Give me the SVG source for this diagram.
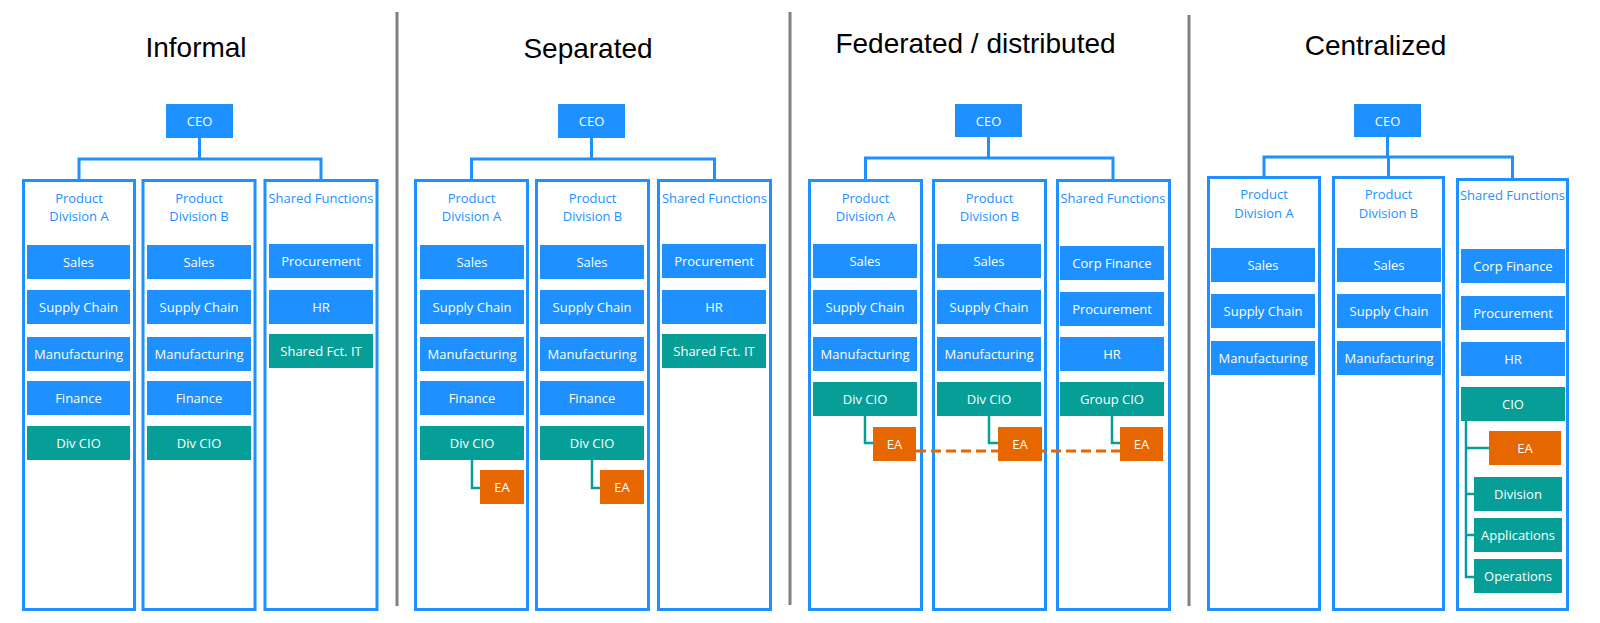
<svg xmlns="http://www.w3.org/2000/svg" width="1600" height="623" viewBox="0 0 1600 623">
<style>
.title{font-family:"Liberation Sans",Arial,sans-serif;font-size:28px;fill:#000;text-anchor:middle}
.col{fill:#fff;stroke:#1E90FF;stroke-width:3}
.hdr{font-family:"Open Sans","Noto Sans",sans-serif;font-size:13px;fill:#1E90FF;text-anchor:middle}
.b{fill:#1E90FF}
.t{fill:#069E96}
.o{fill:#E66700}
.lbl{font-family:"Open Sans","Noto Sans",sans-serif;font-size:13px;fill:#fff;text-anchor:middle;dominant-baseline:central}
.blue{fill:none;stroke:#1E90FF;stroke-width:3}
.teal{fill:none;stroke:#069E96;stroke-width:2.5}
.dash{fill:none;stroke:#E66700;stroke-width:3;stroke-dasharray:10 5}
.div{stroke:#808080;stroke-width:3}
</style>
<rect width="1600" height="623" fill="#fff"/>
<g id="dividers">
<line class="div" x1="397" y1="12" x2="397" y2="606"/>
<line class="div" x1="790" y1="12" x2="790" y2="605"/>
<line class="div" x1="1189" y1="15" x2="1189" y2="606"/>
</g>
<g id="titles">
<text class="title" x="196" y="57">Informal</text>
<text class="title" x="588" y="58">Separated</text>
<text class="title" x="975.5" y="53">Federated / distributed</text>
<text class="title" x="1375.5" y="55">Centralized</text>
</g>
<!-- Columns -->
<g id="p1-colA"><rect class="col" x="23.5" y="180.5" width="111" height="429"/><text class="hdr" x="79" y="203">Product</text><text class="hdr" x="79" y="221">Division A</text></g>
<g id="p1-colB"><rect class="col" x="143" y="180.5" width="112" height="429"/><text class="hdr" x="199" y="203">Product</text><text class="hdr" x="199" y="221">Division B</text></g>
<g id="p1-colS"><rect class="col" x="265" y="180.5" width="112" height="429"/><text class="hdr" x="321" y="203">Shared Functions</text></g>
<g id="p2-colA"><rect class="col" x="415.5" y="180.5" width="112" height="429"/><text class="hdr" x="471.5" y="203">Product</text><text class="hdr" x="471.5" y="221">Division A</text></g>
<g id="p2-colB"><rect class="col" x="536.5" y="180.5" width="112" height="429"/><text class="hdr" x="592.5" y="203">Product</text><text class="hdr" x="592.5" y="221">Division B</text></g>
<g id="p2-colS"><rect class="col" x="658.5" y="180.5" width="112" height="429"/><text class="hdr" x="714.5" y="203">Shared Functions</text></g>
<g id="p3-colA"><rect class="col" x="809.5" y="180.5" width="112" height="429"/><text class="hdr" x="865.5" y="203">Product</text><text class="hdr" x="865.5" y="221">Division A</text></g>
<g id="p3-colB"><rect class="col" x="933.5" y="180.5" width="112" height="429"/><text class="hdr" x="989.5" y="203">Product</text><text class="hdr" x="989.5" y="221">Division B</text></g>
<g id="p3-colS"><rect class="col" x="1057.5" y="180.5" width="112" height="429"/><text class="hdr" x="1113" y="203">Shared Functions</text></g>
<g id="p4-colA"><rect class="col" x="1208.5" y="177.5" width="111" height="432"/><text class="hdr" x="1264" y="199">Product</text><text class="hdr" x="1264" y="217.5">Division A</text></g>
<g id="p4-colB"><rect class="col" x="1333.5" y="177.5" width="110" height="432"/><text class="hdr" x="1388.5" y="199">Product</text><text class="hdr" x="1388.5" y="217.5">Division B</text></g>
<g id="p4-colS"><rect class="col" x="1457.5" y="179.5" width="110" height="430"/><text class="hdr" x="1512.5" y="200">Shared Functions</text></g>
<!-- Connectors -->
<g id="connectors">
<path class="blue" d="M199.5 138V159M79 180V159H321V180"/>
<path class="blue" d="M591.5 138V159M471.5 180V159H714.5V180"/>
<path class="blue" d="M988.5 137V158M865.5 180V158H1113V180"/>
<path class="blue" d="M1387.5 137V157M1264 177V157H1512.5V179M1388.5 157V177"/>
<path class="teal" d="M472 460V488H480M592 460V488H600"/>
<path class="teal" d="M865 416V443H873M989 416V443H998M1112 416V443H1120"/>
<path class="teal" d="M1466 421V577H1474M1466 448H1489M1466 494H1474M1466 535H1474"/>
<path class="dash" d="M916 451H1120"/>
</g>
<!-- Panel 1 nodes -->
<g id="p1-ceo"><rect class="b" x="166" y="104" width="67" height="34"/><text class="lbl" x="199.5" y="121">CEO</text></g>
<g id="p1-a-sales"><rect class="b" x="27" y="245" width="103" height="34"/><text class="lbl" x="78.5" y="262">Sales</text></g>
<g id="p1-a-sc"><rect class="b" x="27" y="290" width="103" height="34"/><text class="lbl" x="78.5" y="307">Supply Chain</text></g>
<g id="p1-a-mfg"><rect class="b" x="27" y="337" width="103" height="34"/><text class="lbl" x="78.5" y="354">Manufacturing</text></g>
<g id="p1-a-fin"><rect class="b" x="27" y="381" width="103" height="34"/><text class="lbl" x="78.5" y="398">Finance</text></g>
<g id="p1-a-cio"><rect class="t" x="27" y="426" width="103" height="34"/><text class="lbl" x="78.5" y="443">Div CIO</text></g>
<g id="p1-b-sales"><rect class="b" x="147" y="245" width="104" height="34"/><text class="lbl" x="199" y="262">Sales</text></g>
<g id="p1-b-sc"><rect class="b" x="147" y="290" width="104" height="34"/><text class="lbl" x="199" y="307">Supply Chain</text></g>
<g id="p1-b-mfg"><rect class="b" x="147" y="337" width="104" height="34"/><text class="lbl" x="199" y="354">Manufacturing</text></g>
<g id="p1-b-fin"><rect class="b" x="147" y="381" width="104" height="34"/><text class="lbl" x="199" y="398">Finance</text></g>
<g id="p1-b-cio"><rect class="t" x="147" y="426" width="104" height="34"/><text class="lbl" x="199" y="443">Div CIO</text></g>
<g id="p1-s-proc"><rect class="b" x="269" y="244" width="104" height="34"/><text class="lbl" x="321" y="261">Procurement</text></g>
<g id="p1-s-hr"><rect class="b" x="269" y="290" width="104" height="34"/><text class="lbl" x="321" y="307">HR</text></g>
<g id="p1-s-it"><rect class="t" x="269" y="334" width="104" height="34"/><text class="lbl" x="321" y="351">Shared Fct. IT</text></g>
<!-- Panel 2 nodes -->
<g id="p2-ceo"><rect class="b" x="558" y="104" width="67" height="34"/><text class="lbl" x="591.5" y="121">CEO</text></g>
<g id="p2-a-sales"><rect class="b" x="420" y="245" width="104" height="34"/><text class="lbl" x="472" y="262">Sales</text></g>
<g id="p2-a-sc"><rect class="b" x="420" y="290" width="104" height="34"/><text class="lbl" x="472" y="307">Supply Chain</text></g>
<g id="p2-a-mfg"><rect class="b" x="420" y="337" width="104" height="34"/><text class="lbl" x="472" y="354">Manufacturing</text></g>
<g id="p2-a-fin"><rect class="b" x="420" y="381" width="104" height="34"/><text class="lbl" x="472" y="398">Finance</text></g>
<g id="p2-a-cio"><rect class="t" x="420" y="426" width="104" height="34"/><text class="lbl" x="472" y="443">Div CIO</text></g>
<g id="p2-a-ea"><rect class="o" x="480" y="470" width="44" height="34"/><text class="lbl" x="502" y="487">EA</text></g>
<g id="p2-b-sales"><rect class="b" x="540" y="245" width="104" height="34"/><text class="lbl" x="592" y="262">Sales</text></g>
<g id="p2-b-sc"><rect class="b" x="540" y="290" width="104" height="34"/><text class="lbl" x="592" y="307">Supply Chain</text></g>
<g id="p2-b-mfg"><rect class="b" x="540" y="337" width="104" height="34"/><text class="lbl" x="592" y="354">Manufacturing</text></g>
<g id="p2-b-fin"><rect class="b" x="540" y="381" width="104" height="34"/><text class="lbl" x="592" y="398">Finance</text></g>
<g id="p2-b-cio"><rect class="t" x="540" y="426" width="104" height="34"/><text class="lbl" x="592" y="443">Div CIO</text></g>
<g id="p2-b-ea"><rect class="o" x="600" y="470" width="44" height="34"/><text class="lbl" x="622" y="487">EA</text></g>
<g id="p2-s-proc"><rect class="b" x="662" y="244" width="104" height="34"/><text class="lbl" x="714" y="261">Procurement</text></g>
<g id="p2-s-hr"><rect class="b" x="662" y="290" width="104" height="34"/><text class="lbl" x="714" y="307">HR</text></g>
<g id="p2-s-it"><rect class="t" x="662" y="334" width="104" height="34"/><text class="lbl" x="714" y="351">Shared Fct. IT</text></g>
<!-- Panel 3 nodes -->
<g id="p3-ceo"><rect class="b" x="955" y="104" width="67" height="33"/><text class="lbl" x="988.5" y="120.5">CEO</text></g>
<g id="p3-a-sales"><rect class="b" x="813" y="244" width="104" height="34"/><text class="lbl" x="865" y="261">Sales</text></g>
<g id="p3-a-sc"><rect class="b" x="813" y="290" width="104" height="34"/><text class="lbl" x="865" y="307">Supply Chain</text></g>
<g id="p3-a-mfg"><rect class="b" x="813" y="337" width="104" height="34"/><text class="lbl" x="865" y="354">Manufacturing</text></g>
<g id="p3-a-cio"><rect class="t" x="813" y="382" width="104" height="34"/><text class="lbl" x="865" y="399">Div CIO</text></g>
<g id="p3-a-ea"><rect class="o" x="873" y="427" width="43" height="34"/><text class="lbl" x="894.5" y="444">EA</text></g>
<g id="p3-b-sales"><rect class="b" x="937" y="244" width="104" height="34"/><text class="lbl" x="989" y="261">Sales</text></g>
<g id="p3-b-sc"><rect class="b" x="937" y="290" width="104" height="34"/><text class="lbl" x="989" y="307">Supply Chain</text></g>
<g id="p3-b-mfg"><rect class="b" x="937" y="337" width="104" height="34"/><text class="lbl" x="989" y="354">Manufacturing</text></g>
<g id="p3-b-cio"><rect class="t" x="937" y="382" width="104" height="34"/><text class="lbl" x="989" y="399">Div CIO</text></g>
<g id="p3-b-ea"><rect class="o" x="998" y="427" width="44" height="34"/><text class="lbl" x="1020" y="444">EA</text></g>
<g id="p3-s-cf"><rect class="b" x="1060" y="246" width="104" height="34"/><text class="lbl" x="1112" y="263">Corp Finance</text></g>
<g id="p3-s-proc"><rect class="b" x="1060" y="292" width="104" height="34"/><text class="lbl" x="1112" y="309">Procurement</text></g>
<g id="p3-s-hr"><rect class="b" x="1060" y="337" width="104" height="34"/><text class="lbl" x="1112" y="354">HR</text></g>
<g id="p3-s-cio"><rect class="t" x="1060" y="382" width="104" height="34"/><text class="lbl" x="1112" y="399">Group CIO</text></g>
<g id="p3-s-ea"><rect class="o" x="1120" y="427" width="43" height="34"/><text class="lbl" x="1141.5" y="444">EA</text></g>
<!-- Panel 4 nodes -->
<g id="p4-ceo"><rect class="b" x="1354" y="104" width="67" height="33"/><text class="lbl" x="1387.5" y="120.5">CEO</text></g>
<g id="p4-a-sales"><rect class="b" x="1211" y="248" width="104" height="34"/><text class="lbl" x="1263" y="265">Sales</text></g>
<g id="p4-a-sc"><rect class="b" x="1211" y="294" width="104" height="34"/><text class="lbl" x="1263" y="311">Supply Chain</text></g>
<g id="p4-a-mfg"><rect class="b" x="1211" y="341" width="104" height="34"/><text class="lbl" x="1263" y="358">Manufacturing</text></g>
<g id="p4-b-sales"><rect class="b" x="1337" y="248" width="104" height="34"/><text class="lbl" x="1389" y="265">Sales</text></g>
<g id="p4-b-sc"><rect class="b" x="1337" y="294" width="104" height="34"/><text class="lbl" x="1389" y="311">Supply Chain</text></g>
<g id="p4-b-mfg"><rect class="b" x="1337" y="341" width="104" height="34"/><text class="lbl" x="1389" y="358">Manufacturing</text></g>
<g id="p4-s-cf"><rect class="b" x="1461" y="249" width="104" height="34"/><text class="lbl" x="1513" y="266">Corp Finance</text></g>
<g id="p4-s-proc"><rect class="b" x="1461" y="296" width="104" height="34"/><text class="lbl" x="1513" y="313">Procurement</text></g>
<g id="p4-s-hr"><rect class="b" x="1461" y="342" width="104" height="34"/><text class="lbl" x="1513" y="359">HR</text></g>
<g id="p4-s-cio"><rect class="t" x="1461" y="387" width="104" height="34"/><text class="lbl" x="1513" y="404">CIO</text></g>
<g id="p4-s-ea"><rect class="o" x="1489" y="431" width="72" height="34"/><text class="lbl" x="1525" y="448">EA</text></g>
<g id="p4-s-div"><rect class="t" x="1474" y="477" width="88" height="34"/><text class="lbl" x="1518" y="494">Division</text></g>
<g id="p4-s-app"><rect class="t" x="1474" y="518" width="88" height="34"/><text class="lbl" x="1518" y="535">Applications</text></g>
<g id="p4-s-ops"><rect class="t" x="1474" y="559" width="88" height="34"/><text class="lbl" x="1518" y="576">Operations</text></g>
</svg>
